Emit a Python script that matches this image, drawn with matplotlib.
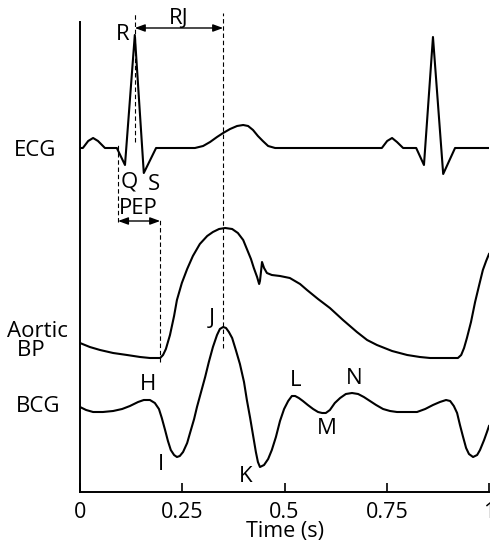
"""
ECG / Aortic BP / BCG timing diagram
"""

import matplotlib
matplotlib.use('Agg')
import matplotlib.pyplot as plt

plt.rcParams['font.family'] = ['Open Sans', 'DejaVu Sans']

# ---- data (time in s, height in plot units) ----
ecg_t = [0.000, 0.007, 0.020, 0.032, 0.044, 0.061, 0.090, 0.110, 0.134, 0.156,
         0.186, 0.281, 0.301, 0.318, 0.335, 0.350, 0.367, 0.384, 0.399, 0.411,
         0.423, 0.435, 0.447, 0.460, 0.477, 0.738, 0.751, 0.763, 0.775, 0.790,
         0.822, 0.841, 0.863, 0.888, 0.917, 1.000]
ecg_v = [399, 399, 406, 409, 406, 399, 399, 382, 512, 374,
         399, 399, 401, 405, 410, 414, 418, 421, 422, 421,
         417, 411, 406, 401, 399, 399, 406, 409, 405, 399,
         399, 382, 510, 373, 399, 399]

bp_t = [0.000, 0.024, 0.049, 0.081, 0.115, 0.147, 0.171, 0.196, 0.203, 0.210,
        0.220, 0.230, 0.237, 0.249, 0.262, 0.276, 0.293, 0.311, 0.325, 0.340,
        0.355, 0.372, 0.386, 0.399, 0.408, 0.418, 0.425, 0.433, 0.438, 0.440,
        0.443, 0.445, 0.450, 0.457, 0.469, 0.489, 0.513, 0.538, 0.555, 0.582,
        0.611, 0.643, 0.677, 0.702, 0.726, 0.763, 0.800, 0.831, 0.856, 0.892,
        0.924, 0.932, 0.939, 0.946, 0.956, 0.966, 0.976, 0.985, 0.993, 1.000]
bp_v = [204, 200, 197, 194, 192, 190, 189, 189, 192, 198,
        212, 231, 247, 264, 278, 291, 303, 311, 315, 318,
        319, 318, 314, 307, 298, 288, 279, 270, 263, 266,
        277, 285, 279, 274, 272, 271, 269, 263, 257, 248,
        239, 227, 215, 207, 202, 196, 192, 190, 189, 189,
        189, 192, 199, 209, 225, 245, 262, 277, 286, 293]

bcg_t = [0.000, 0.015, 0.032, 0.056, 0.081, 0.103, 0.122, 0.142, 0.156, 0.171,
         0.183, 0.193, 0.200, 0.208, 0.215, 0.222, 0.230, 0.237, 0.244, 0.252,
         0.262, 0.269, 0.279, 0.286, 0.296, 0.306, 0.315, 0.325, 0.335, 0.342,
         0.350, 0.357, 0.364, 0.372, 0.381, 0.391, 0.401, 0.408, 0.416, 0.423,
         0.430, 0.435, 0.440, 0.450, 0.460, 0.469, 0.479, 0.489, 0.499, 0.509,
         0.518, 0.526, 0.535, 0.545, 0.557, 0.570, 0.582, 0.592, 0.601, 0.611,
         0.623, 0.636, 0.650, 0.665, 0.680, 0.694, 0.709, 0.724, 0.741, 0.758,
         0.775, 0.800, 0.824, 0.844, 0.863, 0.880, 0.895, 0.905, 0.914, 0.922,
         0.929, 0.936, 0.944, 0.951, 0.961, 0.971, 0.978, 0.988, 0.995, 1.000]
bcg_v = [140, 137, 135, 135, 136, 138, 141, 145, 147, 147,
         144, 138, 129, 117, 106, 97, 92, 90, 91, 95,
         104, 114, 128, 140, 155, 170, 185, 200, 212, 218,
         220, 219, 215, 209, 197, 183, 165, 147, 129, 112,
         95, 85, 80, 82, 88, 97, 110, 126, 138, 146,
         151, 151, 149, 146, 142, 138, 135, 134, 134, 137,
         144, 149, 153, 154, 153, 150, 146, 142, 138, 136,
         135, 135, 135, 138, 142, 145, 147, 146, 141, 134,
         122, 111, 99, 93, 90, 92, 97, 107, 115, 121]

# point labels: (text, time, height)
point_labels = [('R', 0.105, 512), ('Q', 0.120, 365), ('S', 0.181, 363),
                ('J', 0.323, 229), ('H', 0.166, 162), ('I', 0.198, 82),
                ('K', 0.406, 70), ('L', 0.526, 166), ('M', 0.604, 119),
                ('N', 0.670, 169)]
trace_labels = [('ECG', -0.110, 397), ('Aortic\nBP  ', -0.105, 206),
                ('BCG', -0.103, 140)]

# timing markers
t_q, t_r, t_foot, t_j = 0.093, 0.134, 0.196, 0.350

fig = plt.figure(figsize=(4.9, 5.47), dpi=100)
ax = fig.add_axes([80 / 490, 55 / 547, 409 / 490, 470 / 547])

lw = 1.5
ax.plot(ecg_t, ecg_v, color='black', lw=lw)
ax.plot(bp_t, bp_v, color='black', lw=lw)
ax.plot(bcg_t, bcg_v, color='black', lw=lw)

dash = dict(color='black', lw=0.8, linestyles=(0, (4, 2.5)), clip_on=False)
ax.vlines(t_r, 405, 534, **dash)
ax.vlines(t_j, 199, 534, **dash)
ax.vlines(t_q, 325, 402, **dash)
ax.vlines(t_foot, 185, 329, **dash)

arrow = dict(arrowstyle='<|-|>,head_length=0.6,head_width=0.22', color='black',
             lw=1.0, shrinkA=0, shrinkB=0)
ax.annotate('', xy=(t_r, 519), xytext=(t_j, 519), arrowprops=arrow,
            annotation_clip=False)
ax.annotate('', xy=(t_q, 326), xytext=(t_foot, 326), arrowprops=arrow,
            annotation_clip=False)

fs = 16
ax.text((t_r + t_j) / 2, 529, 'RJ', fontsize=fs, ha='center', va='center',
        clip_on=False)
ax.text(0.142, 338, 'PEP', fontsize=fs, ha='center', va='center')

for txt, x, y in point_labels:
    ax.text(x, y, txt, fontsize=fs, ha='center', va='center', clip_on=False)
for txt, x, y in trace_labels:
    ax.text(x, y, txt, fontsize=fs, ha='center', va='center',
            linespacing=0.9, clip_on=False)

ax.set_xlim(0, 1)
ax.set_ylim(55, 525)
ax.set_xticks([0, 0.25, 0.5, 0.75, 1])
ax.set_xticklabels(['0', '0.25', '0.5', '0.75', '1'])
ax.set_yticks([])
ax.tick_params(axis='x', direction='in', length=6.5, width=1.2,
               labelsize=15.5, pad=7)
ax.set_xlabel('Time (s)', fontsize=15.5, labelpad=-1.5)
for side in ('top', 'right'):
    ax.spines[side].set_visible(False)
for side in ('left', 'bottom'):
    ax.spines[side].set_linewidth(1.4)

fig.savefig('out.png', dpi=100)
